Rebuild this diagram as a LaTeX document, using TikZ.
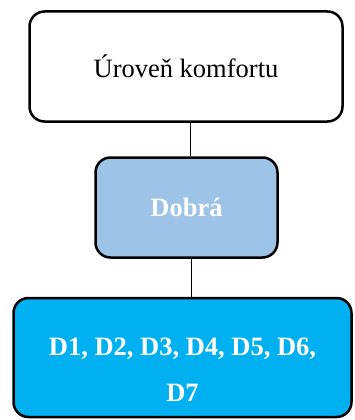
\documentclass[tikz,border=0pt]{standalone}
\usepackage{fontspec}
\setmainfont{Liberation Serif}
\usetikzlibrary{positioning}

\begin{document}
\begin{tikzpicture}[x=1pt,y=-1pt,box/.style={draw, line width=2.5pt, rounded corners=15pt, align=center, font=\fontsize{26.5}{46}\selectfont},bluetext/.style={text=white, font=\fontsize{26.5}{46}\selectfont\bfseries}]
\useasboundingbox (0,0) rectangle (354,420);
\node[box, minimum width=313pt, minimum height=110pt] (comfort) at (186,66.5) {Úroveň komfortu};
\node[box, fill={rgb,255:red,157;green,195;blue,230}, minimum width=182pt, minimum height=100pt] (level) at (186.5,207.5) {};
\node[bluetext] (leveltext) at (level.center) {Dobrá};
\node[box, fill={rgb,255:red,0;green,176;blue,240}, minimum width=338pt, minimum height=119pt] (dlist) at (182.5,357.5) {};
\node[bluetext, align=center] (dtext) at ([yshift=-12pt]dlist.center) {D1, D2, D3, D4, D5, D6,\\D7};
\draw ([xshift=4pt]comfort.south) -- ([xshift=4pt]comfort.south |- level.north);
\draw ([xshift=5pt]level.south) -- ([xshift=5pt]level.south |- dlist.north);
\end{tikzpicture}
\end{document}
